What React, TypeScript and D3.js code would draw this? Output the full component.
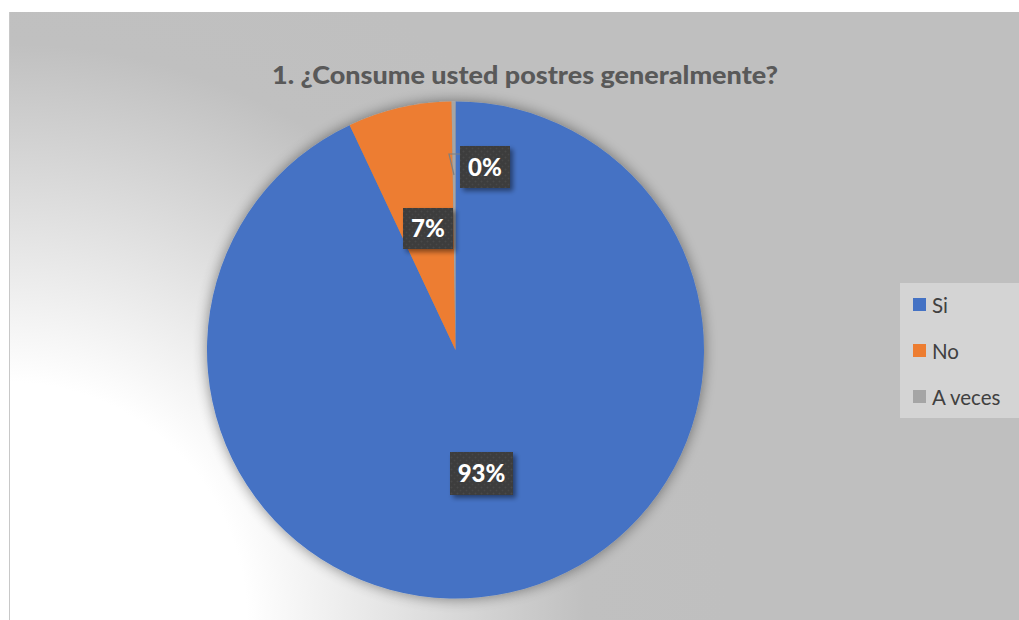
import React from "react";
import * as d3 from "d3";

const categories = ["Si", "No", "A veces"];
const values = [93, 6.75, 0.25];
const labels = ["93%", "7%", "0%"];
const colors = ["#4472C4", "#ED7D31", "#A5A5A5"];
const title = "1. ¿Consume usted postres generalmente?";

const W = 1019;
const H = 620;

export default function App() {
  const cx = 455.5;
  const cy = 350;
  const r = 248.5;
  const data = categories.map((c, i) => ({ name: c, value: values[i], label: labels[i], color: colors[i] }));
  const pie = d3.pie<any>().sort(null).value((d: any) => d.value);
  const arcs = pie(data);
  const arc = d3.arc<any>().innerRadius(0).outerRadius(r);
  const boxes = [
    { x: 450, y: 452, w: 63, h: 43 },
    { x: 403, y: 208, w: 50, h: 41 },
    { x: 460, y: 146, w: 50, h: 42 },
  ];
  const legendY = [305, 351, 397];
  return (
    <svg width={W} height={H} style={{ position: "absolute", left: 0, top: 0 }}>
      <defs>
        <radialGradient id="bg" gradientUnits="userSpaceOnUse" cx={9} cy={620} r={720}>
          <stop offset="0" stopColor="#ffffff" />
          <stop offset="0.33" stopColor="#ffffff" />
          <stop offset="0.8" stopColor="#c0c0c0" />
          <stop offset="1" stopColor="#bfbfbf" />
        </radialGradient>
        <filter id="pieShadow" x="-20%" y="-20%" width="140%" height="140%">
          <feGaussianBlur in="SourceAlpha" stdDeviation="7" />
          <feOffset dx="0" dy="0" result="b" />
          <feComponentTransfer>
            <feFuncA type="linear" slope="0.45" />
          </feComponentTransfer>
          <feMerge>
            <feMergeNode />
            <feMergeNode in="SourceGraphic" />
          </feMerge>
        </filter>
        <filter id="boxShadow" x="-30%" y="-30%" width="170%" height="170%">
          <feGaussianBlur in="SourceAlpha" stdDeviation="2.5" />
          <feOffset dx="3" dy="3" />
          <feComponentTransfer>
            <feFuncA type="linear" slope="0.45" />
          </feComponentTransfer>
          <feMerge>
            <feMergeNode />
            <feMergeNode in="SourceGraphic" />
          </feMerge>
        </filter>
        <pattern id="dots" width="6" height="6" patternUnits="userSpaceOnUse">
          <rect width="6" height="6" fill="#3d3d3d" />
          <circle cx="1.5" cy="1.5" r="1" fill="#4a4a4a" />
          <circle cx="4.5" cy="4.5" r="1" fill="#464646" />
        </pattern>
      </defs>
      <rect x={9} y={12} width={W - 9} height={H - 12} fill="url(#bg)" />
      <line x1={9.5} y1={12} x2={9.5} y2={H} stroke="#c8c8c8" strokeWidth={1} />
      <text
        x={272}
        y={84}
        textLength={506}
        lengthAdjust="spacingAndGlyphs"
        fontFamily="Lato, 'Open Sans', sans-serif"
        fontWeight="900"
        fontSize={25}
        fill="#595959"
      >
        {title}
      </text>
      <g transform={`translate(${cx},${cy})`} filter="url(#pieShadow)">
        {arcs.map((a, i) => (
          <path key={i} d={arc(a) as string} fill={a.data.color} />
        ))}
      </g>
      <polyline points="460,154 449,154 454,175" fill="none" stroke="#7f7f7f" strokeWidth={1.2} />
      {arcs.map((a, i) => {
        const b = boxes[i];
        return (
          <g key={i}>
            <rect x={b.x} y={b.y} width={b.w} height={b.h} fill="url(#dots)" filter="url(#boxShadow)" />
            <text
              x={b.x + b.w / 2}
              y={b.y + b.h / 2 + 8.5}
              textAnchor="middle"
              fontFamily="Lato, 'Open Sans', sans-serif"
              fontWeight="900"
              fontSize={24}
              fill="#ffffff"
            >
              {a.data.label}
            </text>
          </g>
        );
      })}
      <rect x={900} y={283} width={119} height={135} fill="#d4d4d4" />
      {data.map((d, i) => (
        <g key={i}>
          <rect x={913} y={legendY[i] - 7} width={13} height={13} fill={d.color} />
          <text
            x={932}
            y={legendY[i] + 7.5}
            fontFamily="Lato, 'Open Sans', sans-serif"
            fontSize={20.5}
            fill="#404040"
          >
            {d.name}
          </text>
        </g>
      ))}
    </svg>
  );
}
